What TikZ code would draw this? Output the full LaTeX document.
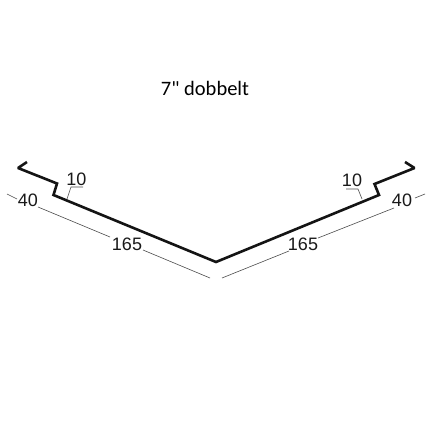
\documentclass[tikz,border=0pt]{standalone}
\usepackage{fontspec}
\setmainfont{Liberation Sans}
\newfontfamily\titlefont{Carlito}
\tikzset{
  profile/.style={draw=black!92,line width=2.6pt,line join=miter,miter limit=2,line cap=butt},
  dimline/.style={draw=black!70,line width=0.6pt},
  dimtext/.style={font=\fontsize{18}{18}\selectfont,text=black!90,inner sep=0pt},
  titletext/.style={font=\titlefont\fontsize{20.5}{20.5}\selectfont,text=black,inner sep=0pt}
}
\begin{document}
\begin{tikzpicture}[x=1pt,y=-1pt]
\useasboundingbox[fill=white] (0,0) rectangle (433,433);
\node[titletext] (title) at (205,88) {7" dobbelt};
% profile
\draw[profile] (27,162) -- (18,168) -- (57,183.5) -- (53.5,195) -- (216,262) -- (379,195) -- (374.5,184) -- (414.5,168) -- (405,162);
% leaders for 10
\draw[dimline] (67,199) -- (71,187) -- (83,187);
\draw[dimline] (362,199) -- (358,189) -- (346,189);
% dimension lines
\draw[dimline] (7,194) -- (17,199);
\draw[dimline] (38,207) -- (110,237);
\draw[dimline] (143,250) -- (210,278);
\draw[dimline] (425,194) -- (415,198);
\draw[dimline] (394,208) -- (318,238);
\draw[dimline] (289,251) -- (222,278);
% labels
\node[dimtext] (a) at (76.5,179) {10};
\node[dimtext] (b) at (352,180) {10};
\node[dimtext] (c) at (28,200.5) {40};
\node[dimtext] (d) at (402,200.5) {40};
\node[dimtext] (e) at (127,244) {165};
\node[dimtext] (f) at (303,244) {165};
\end{tikzpicture}
\end{document}
